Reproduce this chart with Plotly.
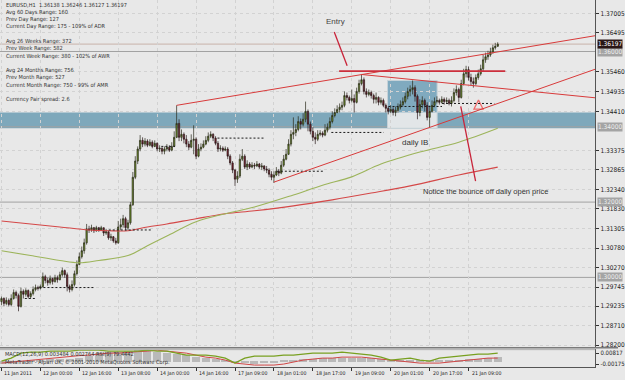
import plotly.graph_objects as go

# ---------------- data ----------------
closes = [
    1.2944, 1.2931, 1.2939, 1.2928, 1.2944, 1.2960, 1.2952, 1.2923, 1.2963, 1.2955, 1.2965, 1.2949, 1.2957, 1.2968, 1.2973, 1.2971,
    1.2976, 1.3002, 1.2992, 1.2986, 1.2997, 1.2989, 1.2999, 1.2994, 1.3007, 1.3018, 1.3007, 1.2976, 1.2968, 1.2981, 1.3010, 1.3034,
    1.3055, 1.3071, 1.3092, 1.3129, 1.3126, 1.3132, 1.3124, 1.3132, 1.3126, 1.3132, 1.3118, 1.3121, 1.3105, 1.3108, 1.3097, 1.3092,
    1.3134, 1.3140, 1.3156, 1.3132, 1.3145, 1.3193, 1.3266, 1.3309, 1.3341, 1.3364, 1.3354, 1.3362, 1.3351, 1.3359, 1.3348, 1.3356,
    1.3341, 1.3343, 1.3335, 1.3341, 1.3346, 1.3338, 1.3348, 1.3372, 1.3409, 1.3372, 1.3380, 1.3367, 1.3354, 1.3346, 1.3364, 1.3367,
    1.3322, 1.3341, 1.3346, 1.3354, 1.3364, 1.3375, 1.3380, 1.3370, 1.3356, 1.3341, 1.3343, 1.3338, 1.3341, 1.3322, 1.3304, 1.3285,
    1.3261, 1.3269, 1.3314, 1.3322, 1.3293, 1.3301, 1.3293, 1.3298, 1.3296, 1.3301, 1.3293, 1.3296, 1.3288, 1.3285, 1.3274, 1.3266,
    1.3272, 1.3282, 1.3277, 1.3298, 1.3314, 1.3327, 1.3354, 1.3380, 1.3385, 1.3393, 1.3414, 1.3407, 1.3420, 1.3441, 1.3407, 1.3388,
    1.3372, 1.3367, 1.3380, 1.3383, 1.3378, 1.3391, 1.3399, 1.3414, 1.3430, 1.3438, 1.3446, 1.3452, 1.3457, 1.3483, 1.3478, 1.3470,
    1.3475, 1.3465, 1.3494, 1.3515, 1.3525, 1.3494, 1.3486, 1.3491, 1.3483, 1.3473, 1.3478, 1.3465, 1.3470, 1.3457, 1.3449, 1.3441,
    1.3446, 1.3438, 1.3444, 1.3452, 1.3459, 1.3467, 1.3481, 1.3494, 1.3499, 1.3504, 1.3481, 1.3438, 1.3459, 1.3470, 1.3457, 1.3425,
    1.3441, 1.3457, 1.3467, 1.3470, 1.3465, 1.3473, 1.3467, 1.3470, 1.3462, 1.3470, 1.3491, 1.3499, 1.3478, 1.3515, 1.3541, 1.3552,
    1.3531, 1.3520, 1.3515, 1.3531, 1.3541, 1.3554, 1.3578, 1.3586, 1.3591, 1.3599, 1.3610, 1.36138, 1.36197,
]
highs = [
    1.2949, 1.2947, 1.2947, 1.2944, 1.2955, 1.2968, 1.2965, 1.2957, 1.2973, 1.2968, 1.2971, 1.2968, 1.2963, 1.2976, 1.2981, 1.2978,
    1.2981, 1.3013, 1.3007, 1.2999, 1.3005, 1.2999, 1.3007, 1.3005, 1.3015, 1.3026, 1.3021, 1.3013, 1.2981, 1.2992, 1.3018, 1.3045,
    1.3066, 1.3082, 1.3103, 1.3142, 1.3137, 1.3140, 1.3134, 1.3137, 1.3134, 1.3137, 1.3132, 1.3129, 1.3124, 1.3116, 1.3110, 1.3105,
    1.3150, 1.3156, 1.3166, 1.3161, 1.3153, 1.3200, 1.3280, 1.3322, 1.3348, 1.3378, 1.3372, 1.3370, 1.3367, 1.3367, 1.3364, 1.3364,
    1.3359, 1.3351, 1.3346, 1.3348, 1.3354, 1.3351, 1.3359, 1.3388, 1.3457, 1.3420, 1.3393, 1.3385, 1.3378, 1.3362, 1.3380, 1.3404,
    1.3372, 1.3354, 1.3356, 1.3364, 1.3375, 1.3385, 1.3388, 1.3383, 1.3375, 1.3362, 1.3351, 1.3348, 1.3348, 1.3346, 1.3327, 1.3309,
    1.3288, 1.3282, 1.3327, 1.3341, 1.3327, 1.3311, 1.3306, 1.3306, 1.3304, 1.3309, 1.3304, 1.3304, 1.3298, 1.3296, 1.3290, 1.3282,
    1.3282, 1.3293, 1.3288, 1.3309, 1.3325, 1.3341, 1.3367, 1.3391, 1.3425, 1.3407, 1.3428, 1.3422, 1.3436, 1.3467, 1.3446, 1.3414,
    1.3399, 1.3385, 1.3391, 1.3391, 1.3388, 1.3407, 1.3409, 1.3425, 1.3441, 1.3449, 1.3457, 1.3462, 1.3467, 1.3494, 1.3491, 1.3483,
    1.3499, 1.3486, 1.3504, 1.3525, 1.3539, 1.3531, 1.3502, 1.3499, 1.3496, 1.3488, 1.3491, 1.3481, 1.3478, 1.3475, 1.3462, 1.3454,
    1.3457, 1.3452, 1.3454, 1.3462, 1.3470, 1.3478, 1.3491, 1.3504, 1.3510, 1.3523, 1.3510, 1.3486, 1.3473, 1.3481, 1.3475, 1.3465,
    1.3452, 1.3470, 1.3478, 1.3481, 1.3475, 1.3481, 1.3478, 1.3478, 1.3475, 1.3481, 1.3502, 1.3510, 1.3504, 1.3525, 1.3554, 1.3562,
    1.3560, 1.3541, 1.3531, 1.3539, 1.3552, 1.3565, 1.3591, 1.3597, 1.3602, 1.3610, 1.3618, 1.3623, 1.36246,
]
lows = [
    1.2926, 1.2923, 1.2926, 1.2923, 1.2923, 1.2941, 1.2944, 1.2910, 1.2920, 1.2944, 1.2949, 1.2944, 1.2944, 1.2952, 1.2963, 1.2965,
    1.2968, 1.2973, 1.2984, 1.2978, 1.2981, 1.2981, 1.2986, 1.2986, 1.2992, 1.3002, 1.2999, 1.2963, 1.2960, 1.2963, 1.2976, 1.3005,
    1.3034, 1.3050, 1.3063, 1.3087, 1.3118, 1.3121, 1.3118, 1.3121, 1.3121, 1.3124, 1.3110, 1.3113, 1.3100, 1.3097, 1.3092, 1.3087,
    1.3089, 1.3126, 1.3132, 1.3124, 1.3126, 1.3140, 1.3190, 1.3261, 1.3301, 1.3335, 1.3346, 1.3348, 1.3346, 1.3348, 1.3343, 1.3346,
    1.3335, 1.3333, 1.3327, 1.3327, 1.3335, 1.3333, 1.3335, 1.3346, 1.3370, 1.3362, 1.3362, 1.3356, 1.3346, 1.3338, 1.3343, 1.3327,
    1.3314, 1.3319, 1.3335, 1.3343, 1.3351, 1.3359, 1.3370, 1.3362, 1.3351, 1.3333, 1.3335, 1.3333, 1.3335, 1.3314, 1.3298, 1.3277,
    1.3243, 1.3251, 1.3264, 1.3309, 1.3288, 1.3285, 1.3288, 1.3290, 1.3288, 1.3293, 1.3288, 1.3285, 1.3282, 1.3277, 1.3266, 1.3258,
    1.3251, 1.3269, 1.3269, 1.3274, 1.3293, 1.3311, 1.3325, 1.3348, 1.3367, 1.3375, 1.3388, 1.3393, 1.3401, 1.3412, 1.3388, 1.3380,
    1.3362, 1.3354, 1.3362, 1.3375, 1.3372, 1.3375, 1.3385, 1.3393, 1.3409, 1.3425, 1.3436, 1.3438, 1.3444, 1.3452, 1.3470, 1.3462,
    1.3465, 1.3438, 1.3462, 1.3488, 1.3510, 1.3486, 1.3478, 1.3481, 1.3475, 1.3462, 1.3462, 1.3457, 1.3459, 1.3452, 1.3438, 1.3433,
    1.3436, 1.3430, 1.3428, 1.3438, 1.3446, 1.3454, 1.3462, 1.3473, 1.3481, 1.3486, 1.3467, 1.3420, 1.3428, 1.3449, 1.3441, 1.3417,
    1.3399, 1.3438, 1.3452, 1.3462, 1.3459, 1.3462, 1.3459, 1.3462, 1.3457, 1.3454, 1.3465, 1.3483, 1.3465, 1.3475, 1.3510, 1.3531,
    1.3523, 1.3510, 1.3504, 1.3510, 1.3525, 1.3536, 1.3546, 1.3570, 1.3578, 1.3586, 1.3594, 1.3605, 1.36127,
]
first_open = 1.2936
opens = [first_open] + closes[:-1]          # hourly FX bars open at the previous close
bars = list(range(len(closes)))

time_tick_bars = [0, 16, 32, 48, 64, 80, 96, 112, 128, 144, 160, 176, 192]
time_tick_text = ["11 Jan 2011", "12 Jan 00:00", "12 Jan 16:00", "13 Jan 08:00", "14 Jan 00:00",
                  "14 Jan 16:00", "17 Jan 09:00", "18 Jan 01:00", "18 Jan 17:00", "19 Jan 09:00",
                  "20 Jan 01:00", "20 Jan 17:00", "21 Jan 09:00"]

# visible price-scale labels (the two labels hidden under level boxes are left out)
price_ticks = [1.28200, 1.28710, 1.29235, 1.29745, 1.30270, 1.30780, 1.31305, 1.31830, 1.32340,
               1.32865, 1.33375, 1.34410, 1.34935, 1.35460, 1.36495, 1.37005]

ma_green_bars = [0, 12, 24, 32, 40, 52, 60, 68, 80, 92, 104, 120, 132, 144, 156, 172, 188, 204]
ma_green = [1.3071, 1.3058, 1.3045, 1.3039, 1.3045, 1.3058, 1.3084, 1.3110, 1.3148, 1.3169,
            1.3187, 1.3219, 1.3245, 1.3267, 1.3301, 1.3333, 1.3359, 1.3396]
ma_red_bars = [0, 12, 24, 36, 44, 52, 60, 68, 80, 92, 104, 120, 136, 152, 168, 188, 204]
ma_red = [1.3150, 1.3142, 1.3134, 1.3126, 1.3124, 1.3124, 1.3134, 1.3142, 1.3156, 1.3169,
          1.3177, 1.3190, 1.3206, 1.3224, 1.3243, 1.3272, 1.3293]

ind_bars = list(range(0, 205, 4))
ind_hist = [-0.00175, -0.00085, 0.00005, 0.00095, 0.00186, 0.00276, 0.00276, 0.00276, 0.00366, 0.00546,
            0.00817, 0.00907, 0.00907, 0.00997, 0.01088, 0.00997, 0.00907, 0.00817, 0.00727, 0.00637,
            0.00456, 0.00366, 0.00276, 0.00095, -0.00085, -0.00085, -0.00175, -0.00130, -0.00085, 0.00095,
            0.00186, 0.00276, 0.00276, 0.00366, 0.00366, 0.00366, 0.00366, 0.00366, 0.00321, 0.00276,
            0.00186, 0.00186, 0.00095, 0.00095, 0.00095, 0.00095, 0.00186, 0.00186, 0.00276, 0.00276,
            0.00366, 0.00456]
ind_green = [0.00095, 0.00366, 0.00817, 0.00907, 0.00907, 0.00997, 0.00997, 0.00997, 0.01088, 0.01088,
             0.01088, 0.00997, 0.00997, 0.00997, 0.00997, 0.01088, 0.00997, 0.00997, 0.00817, 0.00637,
             0.00637, 0.00637, 0.00546, 0.00366, -0.00085, 0.00366, 0.00546, 0.00546, 0.00546, 0.00637,
             0.00637, 0.00727, 0.00817, 0.00817, 0.00817, 0.00907, 0.00817, 0.00727, 0.00637, 0.00456,
             0.00186, 0.00276, 0.00366, 0.00186, 0.00095, 0.00366, 0.00456, 0.00546, 0.00637, 0.00727,
             0.00727, 0.00817]
ind_red = [-0.00085, 0.00005, 0.00095, 0.00186, 0.00276, 0.00366, 0.00456, 0.00546, 0.00592, 0.00637,
           0.00727, 0.00817, 0.00817, 0.00907, 0.00952, 0.00997, 0.01088, 0.00997, 0.00907, 0.00817,
           0.00637, 0.00456, 0.00366, 0.00186, -0.00085, -0.00175, -0.00265, -0.00265, -0.00265, -0.00175,
           0.00005, 0.00186, 0.00276, 0.00366, 0.00366, 0.00456, 0.00456, 0.00456, 0.00366, 0.00276,
           0.00186, 0.00095, 0.00005, -0.00085, -0.00085, -0.00085, 0.00005, 0.00095, 0.00186, 0.00276,
           0.00366, 0.00366]
ind_ticks = [0.00817, -0.00175]

round_levels = [1.30, 1.32, 1.34, 1.36]
bid_price = 1.36197
band_low, band_high = 1.3396, 1.3438
ib_start, ib_end, ib_low, ib_high = 158.7, 179.1, 1.3396, 1.3523
daily_open_lines = [(9.6, 14.4, 1.2944), (15.6, 38.0, 1.2973), (44.1, 61.6, 1.3126), (65.7, 71.3, 1.3348),
                    (88.8, 108.3, 1.3370), (113.2, 132.7, 1.3282), (135.6, 157.1, 1.3385),
                    (159.1, 181.1, 1.3454), (181.1, 202.6, 1.3462)]
trendlines = [((72, 1.3457), (244.1, 1.3642)),
              ((112, 1.3253), (244.1, 1.3553)),
              ((148, 1.3539), (244.1, 1.3477))]
entry_level = (138.8, 207.1, 1.3548)
entry_pointer = ((136.8, 1.3652), (142.1, 1.3562))
notice_pointer = ((188.8, 1.3454), (194.9, 1.3256))
arrow_mark = (196.1, 1.3471)

info_lines = ["EURUSD,H1\u00a0\u00a01.36138 1.36246 1.36127 1.36197",
              "Avg 60 Days Range: 160", "Prev Day Range: 127", "Current Day Range: 175 - 109% of ADR", "",
              "Avg 26 Weeks Range: 372", "Prev Week Range: 582", "Current Week Range: 380 - 102% of AWR", "",
              "Avg 24 Months Range: 756", "Prev Month Range: 527", "Current Month Range: 750 - 99% of AMR", "",
              "Currency Pair spread: 2.6"]

# ---------------- figure ----------------
W, H = 625, 380
PLOT_R = 602 / W
BG = "#e8e8e8"
RED = "#d83a3a"
FONT = "Liberation Sans, Arial, sans-serif"
NARROW = "Liberation Sans Narrow, DejaVu Sans Condensed, Liberation Sans, Arial, sans-serif"

def py(pix):
    return 1 - pix / H

fig = go.Figure()

fig.add_trace(go.Candlestick(
    x=bars, open=opens, high=highs, low=lows, close=closes,
    increasing=dict(fillcolor="#6e9228", line=dict(color="#2a2a1a", width=0.7)),
    decreasing=dict(fillcolor="#7e1e2c", line=dict(color="#2a1a1a", width=0.7)),
    whiskerwidth=0, xaxis="x", yaxis="y", hoverinfo="skip", showlegend=False))

fig.add_trace(go.Scatter(x=ma_red_bars, y=ma_red, mode="lines", line=dict(color="#d44848", width=1.1, shape="spline"),
                         xaxis="x", yaxis="y", hoverinfo="skip", showlegend=False))
fig.add_trace(go.Scatter(x=ma_green_bars, y=ma_green, mode="lines", line=dict(color="#9cb45a", width=1.1, shape="spline"),
                         xaxis="x", yaxis="y", hoverinfo="skip", showlegend=False))

# pink up-arrow marker
fig.add_trace(go.Scatter(x=[arrow_mark[0]], y=[arrow_mark[1]], mode="markers",
                         marker=dict(symbol="arrow-up-open", size=9, color="#ee6a6a", line=dict(width=1.3, color="#ee6a6a")),
                         xaxis="x", yaxis="y", hoverinfo="skip", showlegend=False))

# indicator window
fig.add_trace(go.Bar(x=ind_bars, y=ind_hist, width=3.3, marker=dict(color="#b9b9b9", line=dict(width=0)),
                     xaxis="x2", yaxis="y2", hoverinfo="skip", showlegend=False))
fig.add_trace(go.Scatter(x=ind_bars, y=ind_red, mode="lines", line=dict(color="#d04646", width=1),
                         xaxis="x2", yaxis="y2", hoverinfo="skip", showlegend=False))
fig.add_trace(go.Scatter(x=ind_bars, y=ind_green, mode="lines", line=dict(color="#78a020", width=1.4),
                         xaxis="x2", yaxis="y2", hoverinfo="skip", showlegend=False))

shapes = []
# blue band and daily IB box
shapes.append(dict(type="rect", xref="x domain", yref="y", x0=0, x1=1, y0=band_low, y1=band_high,
                   fillcolor="#7ea8bb", line=dict(width=0), layer="below"))
shapes.append(dict(type="rect", xref="x", yref="y", x0=ib_start, x1=ib_end, y0=band_high, y1=ib_high,
                   fillcolor="#80aabf", line=dict(width=0), layer="below"))
shapes.append(dict(type="rect", xref="x", yref="y", x0=ib_start, x1=ib_end, y0=ib_low, y1=band_high,
                   fillcolor="#e2e6e8", line=dict(width=0), layer="below"))
shapes.append(dict(type="rect", xref="x", yref="y", x0=ib_start, x1=ib_end, y0=ib_low, y1=ib_high,
                   fillcolor="rgba(0,0,0,0)", line=dict(color="#c6d2d8", width=1), layer="below"))
# horizontal price lines
for lvl in round_levels:
    shapes.append(dict(type="line", xref="x domain", yref="y", x0=0, x1=1, y0=lvl, y1=lvl,
                       line=dict(color="#a2a2a2", width=1), layer="below"))
shapes.append(dict(type="line", xref="x domain", yref="y", x0=0, x1=1, y0=bid_price, y1=bid_price,
                   line=dict(color="#c9b2aa", width=1), layer="below"))
# daily open dotted lines
for x0, x1, p in daily_open_lines:
    shapes.append(dict(type="line", xref="x", yref="y", x0=x0, x1=x1, y0=p, y1=p,
                       line=dict(color="#1a1a1a", width=1, dash="2px,2px"), layer="above"))
# trend lines
for (xa, ya), (xb, yb) in trendlines:
    shapes.append(dict(type="line", xref="x", yref="y", x0=xa, x1=xb, y0=ya, y1=yb,
                       line=dict(color=RED, width=1), layer="above"))
shapes.append(dict(type="line", xref="x", yref="y", x0=entry_level[0], x1=entry_level[1],
                   y0=entry_level[2], y1=entry_level[2], line=dict(color="#cc2f3c", width=1.6), layer="above"))
for (xa, ya), (xb, yb) in (entry_pointer, notice_pointer):
    shapes.append(dict(type="line", xref="x", yref="y", x0=xa, x1=xb, y0=ya, y1=yb,
                       line=dict(color="#c8243a", width=1.3), layer="above"))
# window separators
shapes.append(dict(type="line", xref="paper", yref="paper", x0=0, x1=1, y0=py(349.5), y1=py(349.5),
                   line=dict(color="#7a7a7a", width=1.5)))
shapes.append(dict(type="line", xref="paper", yref="paper", x0=0, x1=PLOT_R, y0=py(351.5), y1=py(351.5),
                   line=dict(color="#b0b0b0", width=1)))

annotations = []
for k, line in enumerate(info_lines):
    if line:
        annotations.append(dict(text=line, xref="paper", yref="paper", x=4 / W, y=py(5 + 7.33 * k),
                                xanchor="left", yanchor="middle", showarrow=False,
                                font=dict(family=NARROW, size=5.6, color="#333333")))
annotations.append(dict(text="Entry", xref="x", yref="y", x=137.2, y=1.3679, showarrow=False,
                        font=dict(family=FONT, size=8, color="#444444")))
annotations.append(dict(text="daily IB", xref="x", yref="y", x=170.1, y=1.3359, showarrow=False,
                        font=dict(family=FONT, size=8, color="#333333")))
annotations.append(dict(text="Notice the bounce off daily open price", xref="x", yref="y", x=172.6, y=1.3227,
                        xanchor="left", showarrow=False, font=dict(family=FONT, size=7.5, color="#333333")))
# price-axis level labels
for lvl in round_levels:
    annotations.append(dict(text=f"{lvl:.5f}", xref="paper", yref="y", x=PLOT_R + 2 / W, y=lvl,
                            xanchor="left", yanchor="middle", showarrow=False, bgcolor="#a4a4a4",
                            borderpad=0, font=dict(family=NARROW, size=6.5, color="#eeeeee")))
annotations.append(dict(text=f"{bid_price:.5f}", xref="paper", yref="y", x=PLOT_R + 2 / W, y=bid_price,
                        xanchor="left", yanchor="middle", showarrow=False, bgcolor="#2a1616",
                        borderpad=0, font=dict(family=NARROW, size=6.5, color="#ffffff")))
# time labels (left aligned, MetaTrader style)
for b, t in zip(time_tick_bars, time_tick_text):
    annotations.append(dict(text=t, xref="x2", yref="paper", x=b, y=py(375), xanchor="left", yanchor="middle",
                            xshift=1, showarrow=False, font=dict(family=NARROW, size=5.2, color="#222222")))
annotations.append(dict(text="MACD(12,26,9) 0.003484 0.002764 RSI(9) 79.4442", xref="paper", yref="paper",
                        x=3 / W, y=py(356), xanchor="left", yanchor="middle", showarrow=False,
                        font=dict(family=NARROW, size=5.6, color="#333333")))
annotations.append(dict(text="MetaTrader - Alpari UK, \u00a9 2001-2010 MetaQuotes Software Corp.", xref="paper",
                        yref="paper", x=3 / W, y=py(364), xanchor="left", yanchor="middle", showarrow=False,
                        font=dict(family=NARROW, size=5.6, color="#333333")))

xrange = [-0.61, 244.1]
grid = dict(showgrid=True, gridcolor="#d2d2d2", griddash="dot", gridwidth=1)

fig.update_layout(
    width=W, height=H, autosize=False, margin=dict(l=0, r=0, t=0, b=0),
    paper_bgcolor=BG, plot_bgcolor=BG, boxgap=0.22, bargap=0,
    font=dict(family=FONT, size=7, color="#222222"),
    xaxis=dict(domain=[0, PLOT_R], range=xrange, anchor="y", tickvals=time_tick_bars, showticklabels=False,
               ticks="", zeroline=False, rangeslider=dict(visible=False), fixedrange=True, **grid),
    yaxis=dict(domain=[py(349), 1], range=[1.28147, 1.37368], side="right", anchor="x",
               tickvals=price_ticks, ticktext=[f"{p:.5f}" for p in price_ticks],
               ticks="outside", ticklen=3, tickcolor="#333333", showline=True, linecolor="#555555", linewidth=1,
               tickfont=dict(family=NARROW, size=6.5, color="#222222"), zeroline=False, **grid),
    xaxis2=dict(domain=[0, PLOT_R], range=xrange, anchor="y2", matches="x", tickvals=time_tick_bars,
                showticklabels=False, ticks="outside", ticklen=3, tickcolor="#333333", showline=True,
                linecolor="#555555", linewidth=1, zeroline=False, showgrid=False),
    yaxis2=dict(domain=[py(369), py(351)], range=[-0.00446, 0.01178], side="right", anchor="x2",
                tickvals=ind_ticks, ticktext=["0.00817", "-0.00175"], ticks="outside", ticklen=3,
                tickcolor="#333333", showline=True, linecolor="#555555", linewidth=1, showgrid=False,
                zeroline=False, tickfont=dict(family=NARROW, size=6, color="#222222")),
    shapes=shapes, annotations=annotations, showlegend=False,
)

fig.write_html("out.html")
